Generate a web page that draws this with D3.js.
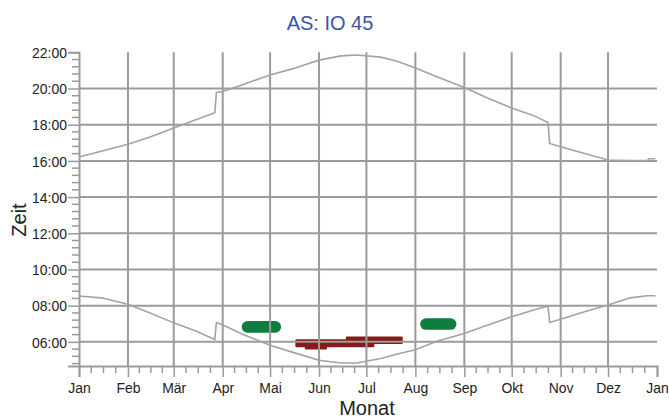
<!DOCTYPE html>
<html>
<head>
<meta charset="utf-8">
<script src="https://cdn.jsdelivr.net/npm/d3@7"></script>
<style>
  body { margin: 0; background: #fff; }
  svg { display: block; font-family: "Liberation Sans", Arial, sans-serif; }
</style>
</head>
<body>
<svg id="chart" width="669" height="418"></svg>
<script>
// sample days (2020), sunrise / sunset
const dates = ['01-01','01-15','02-01','02-15','03-01','03-15','03-27','03-28','04-01','04-15',
  '05-01','05-15','06-01','06-15','06-25','07-10','07-20','08-01','08-15','09-01','09-15',
  '10-01','10-15','10-24','10-25','11-01','11-15','12-01','12-15','12-26','12-27','12-31'];
const sunrise = ['8:32','8:26','8:05','7:36','7:03','6:36','6:08','7:04','6:56','6:22',
  '5:49','5:26','4:59','4:50','4:50','5:05','5:19','5:34','6:03','6:28','6:54',
  '7:23','7:46','7:59','7:04','7:15','7:38','8:02','8:26','8:33','8:33','8:33'];
const sunset = ['16:13','16:32','16:55','17:19','17:49','18:16','18:40','19:47','19:50','20:15',
  '20:45','21:05','21:34','21:48','21:51','21:44','21:31','21:08','20:38','20:03','19:30',
  '18:55','18:30','18:07','16:58','16:47','16:26','16:03','16:01','16:02','16:07','16:07'];

// observation windows
const winStart = ['04-13', '08-04', '05-17', '06-18', '05-23'];
const winEnd   = ['05-08', '08-27', '07-06', '07-24', '06-06'];
const winFrom  = ['6:30', '6:40', '5:42', '5:53', '5:35'];
const winTo    = ['7:09', '7:18', '6:09', '6:18', '5:50'];
const winColor = ['#0e7d3d', '#0e7d3d', '#871a1a', '#871a1a', '#871a1a'];

const months = ['Jan','Feb','Mär','Apr','Mai','Jun','Jul','Aug','Sep','Okt','Nov','Dez','Jan'];
const hourTicks = [6, 8, 10, 12, 14, 16, 18, 20, 22];

const margin = { top: 52.3, right: 12, bottom: 52, left: 79 };
const width = 669, height = 418;
const cW = width - margin.left - margin.right;
const cH = height - margin.top - margin.bottom;
const grey = '#9b9b9b';
const sx = 0.93;

const parseDay = d3.timeParse('%Y-%m-%d');
const day = s => parseDay('2020-' + s);
const hours = s => { const [h, m] = s.split(':'); return +h + m / 60; };
const fmtHour = h => String(h).padStart(2, '0') + ':00';

const x = d3.scaleTime().domain([day('01-01'), parseDay('2021-01-01')]).range([0, cW]);
const y = d3.scaleLinear().domain([4 + 40 / 60, 22]).range([cH, 0]);

const svg = d3.select('#chart');
const g = svg.append('g').attr('transform', `translate(${margin.left},${margin.top})`);

// windows (under the grid)
const wins = winStart.map((s, i) => ({
  x0: x(day(s)), x1: x(day(winEnd[i])),
  y0: y(hours(winTo[i])), y1: y(hours(winFrom[i])), c: winColor[i]
}));
g.append('g').selectAll('rect').data(wins).join('rect')
  .attr('x', d => d.x0).attr('y', d => d.y0)
  .attr('width', d => d.x1 - d.x0).attr('height', d => d.y1 - d.y0)
  .attr('rx', d => d.c === '#0e7d3d' ? 6 : 1)
  .attr('fill', d => d.c);

// grid
const monthStarts = d3.timeMonth.range(day('01-01'), parseDay('2021-01-02'));
g.append('g').selectAll('line').data(monthStarts.slice(1, 12)).join('line')
  .attr('x1', d => x(d)).attr('x2', d => x(d)).attr('y1', 0).attr('y2', cH)
  .attr('stroke', grey).attr('stroke-width', 2);
g.append('g').selectAll('line').data(hourTicks.filter(h => h < 22)).join('line')
  .attr('x1', 0).attr('x2', cW).attr('y1', d => y(d)).attr('y2', d => y(d))
  .attr('stroke', grey).attr('stroke-width', 2);

// minor ticks
const minorY = d3.range(22, 4.6, -0.4).filter(h => Math.abs(h - Math.round(h / 2) * 2) > 0.01);
g.append('g').selectAll('line').data(minorY).join('line')
  .attr('x1', -7).attr('x2', 0).attr('y1', d => y(d)).attr('y2', d => y(d))
  .attr('stroke', grey).attr('stroke-width', 1.5);
const minorX = [];
monthStarts.slice(0, 12).forEach((m, i) => {
  const a = x(m), b = x(monthStarts[i + 1]);
  [0.25, 0.5, 0.75].forEach(f => minorX.push(a + (b - a) * f));
});
g.append('g').selectAll('line').data(minorX).join('line')
  .attr('x1', d => d).attr('x2', d => d).attr('y1', cH).attr('y2', cH + 7)
  .attr('stroke', grey).attr('stroke-width', 1.5);

// axes
const yAxis = g.append('g').call(d3.axisLeft(y).tickValues(hourTicks).tickFormat(fmtHour)
  .tickSize(11).tickPadding(2));
const xAxis = g.append('g').attr('transform', `translate(0,${cH})`)
  .call(d3.axisBottom(x).tickValues(monthStarts).tickFormat((d, i) => months[i])
    .tickSize(11).tickPadding(5));
[yAxis, xAxis].forEach(a => {
  a.select('.domain').attr('stroke', grey).attr('stroke-width', 2);
  a.selectAll('.tick line').attr('stroke', grey).attr('stroke-width', 1.5);
  a.selectAll('.tick text').attr('fill', '#222').attr('font-size', 15)
    .attr('font-family', '"Liberation Sans", Arial, sans-serif')
    .attr('transform', `scale(${sx},1)`);
});
yAxis.selectAll('.tick text').attr('dy', '0.35em');

// sunrise / sunset curves
const line = d3.line().x(d => x(d[0])).y(d => y(d[1]));
[sunrise, sunset].forEach(arr => {
  g.append('path')
    .datum(dates.map((s, i) => [day(s), hours(arr[i])]))
    .attr('d', line).attr('fill', 'none')
    .attr('stroke', '#a3a3a3').attr('stroke-width', 1.6);
});

// labels
svg.append('text').attr('x', 330).attr('y', 30).attr('text-anchor', 'middle')
  .attr('font-size', 20).attr('fill', '#3a55a6').text('AS: IO 45');
svg.append('text').attr('x', 367).attr('y', 415).attr('text-anchor', 'middle')
  .attr('font-size', 20).attr('fill', '#222').text('Monat');
svg.append('text').attr('transform', 'translate(26,220) rotate(-90)').attr('text-anchor', 'middle')
  .attr('font-size', 20).attr('fill', '#222').text('Zeit');
</script>
</body>
</html>
